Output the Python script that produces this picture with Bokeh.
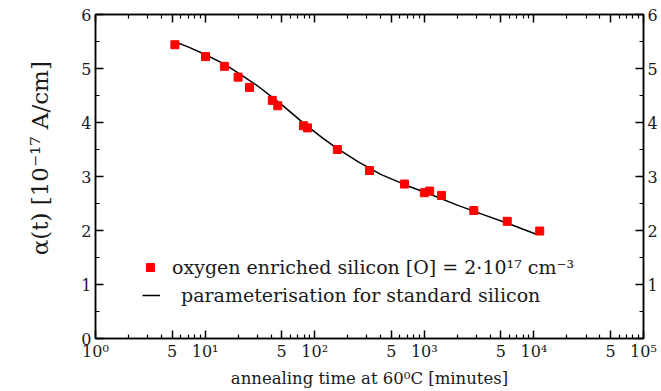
from bokeh.plotting import figure
from bokeh.models import LogAxis, LinearAxis, FixedTicker, Legend, LegendItem, ColumnDataSource
from bokeh.embed import file_html
from bokeh.resources import INLINE

# measured data: oxygen enriched silicon
t_data = [5.3, 10.1, 15, 20, 25.4, 41, 46, 79, 86, 161, 316, 660, 1000, 1120, 1435, 2830, 5710, 11300]
a_data = [5.44, 5.22, 5.04, 4.84, 4.65, 4.41, 4.31, 3.94, 3.90, 3.50, 3.11, 2.86, 2.70, 2.73, 2.65, 2.37, 2.17, 1.99]

# parameterisation for standard silicon
t_fit = [5.2, 7, 10, 15, 20, 30, 50, 80, 120, 160, 250, 400, 700, 1100, 2000, 3500, 6000, 10500]
a_fit = [5.50, 5.40, 5.26, 5.08, 4.92, 4.68, 4.33, 3.98, 3.70, 3.52, 3.27, 3.04, 2.83, 2.68, 2.47, 2.29, 2.12, 1.93]

x_major = [1, 5, 10, 50, 100, 500, 1000, 5000, 10000, 50000, 100000]
x_labels = ["10\u2070", "5", "10\u00b9", "5", "10\u00b2", "5", "10\u00b3", "5", "10\u2074", "5", "10\u2075"]
x_minor = [m * 10 ** d for d in range(5) for m in (2, 3, 4, 6, 7, 8, 9)]
y_major = [0, 1, 2, 3, 4, 5, 6]
y_minor = [0.5, 1.5, 2.5, 3.5, 4.5, 5.5]

label_1 = "oxygen enriched silicon [O] = 2\u00b710\u00b9\u2077 cm\u207b\u00b3"
label_2 = "parameterisation for standard silicon"
x_title = "annealing time at 60\u2070C [minutes]"
y_title = "\u03b1(t) [10\u207b\u00b9\u2077 A/cm]"

FONT = "DejaVu Serif"
INK = "#1a1a1a"

p = figure(width=661, height=391, x_axis_type="log", x_range=(1, 1e5), y_range=(0, 6),
           output_backend="svg", toolbar_location=None,
           min_border_left=95, min_border_right=18, min_border_top=14, min_border_bottom=53)
p.xgrid.visible = False
p.ygrid.visible = False
p.outline_line_color = "black"
p.outline_line_width = 1.5
p.background_fill_color = "white"
p.border_fill_color = "white"

bottom = p.below[0]
left = p.left[0]
top = LogAxis()
right = LinearAxis()
p.add_layout(top, "above")
p.add_layout(right, "right")

xt = FixedTicker(ticks=x_major, minor_ticks=x_minor)
yt = FixedTicker(ticks=y_major, minor_ticks=y_minor)
bottom.ticker = xt
top.ticker = xt
left.ticker = yt
right.ticker = yt

for ax in [bottom, top, left, right]:
    ax.axis_line_color = "black"
    ax.axis_line_width = 1.5
    ax.major_tick_in = 8
    ax.major_tick_out = 0
    ax.minor_tick_in = 4
    ax.minor_tick_out = 0
    ax.major_tick_line_width = 1.5
    ax.minor_tick_line_width = 1.2
    ax.major_label_text_font = FONT
    ax.major_label_text_font_size = "16px"
    ax.major_label_text_color = INK
    ax.major_label_standoff = 4

bottom.major_label_overrides = {float(v): s for v, s in zip(x_major, x_labels)}
bottom.major_label_standoff = 3
top.major_label_overrides = {float(v): "" for v in x_major}
top.major_label_standoff = 0
right.major_label_overrides = {0: ""}

bottom.axis_label = x_title
bottom.axis_label_text_font = FONT
bottom.axis_label_text_font_size = "16.5px"
bottom.axis_label_text_font_style = "normal"
bottom.axis_label_text_color = INK
bottom.axis_label_standoff = 5

left.axis_label = "\u00a0" * 5 + y_title
left.axis_label_text_font = FONT
left.axis_label_text_font_size = "23px"
left.axis_label_text_font_style = "normal"
left.axis_label_text_color = INK
left.axis_label_standoff = 25

src_d = ColumnDataSource(dict(t=t_data, a=a_data))
src_f = ColumnDataSource(dict(t=t_fit, a=a_fit))
r_line = p.line("t", "a", source=src_f, line_color="black", line_width=1.5)
r_pts = p.scatter("t", "a", source=src_d, marker="square", size=8,
                  fill_color="#ff0000", line_color="#ff0000")

leg_style = dict(glyph_height=20, padding=0, margin=0, border_line_color=None,
                 background_fill_alpha=0, label_text_font=FONT,
                 label_text_font_size="19px", label_text_color=INK)
leg1 = Legend(items=[LegendItem(label=label_1, renderers=[r_pts])], location=(45, 60),
              label_standoff=12, glyph_width=20, **leg_style)
leg2 = Legend(items=[LegendItem(label=label_2, renderers=[r_line])], location=(47, 32),
              label_standoff=21, glyph_width=18, **leg_style)
p.add_layout(leg1)
p.add_layout(leg2)

open("out.html", "w").write(file_html(p, INLINE))
